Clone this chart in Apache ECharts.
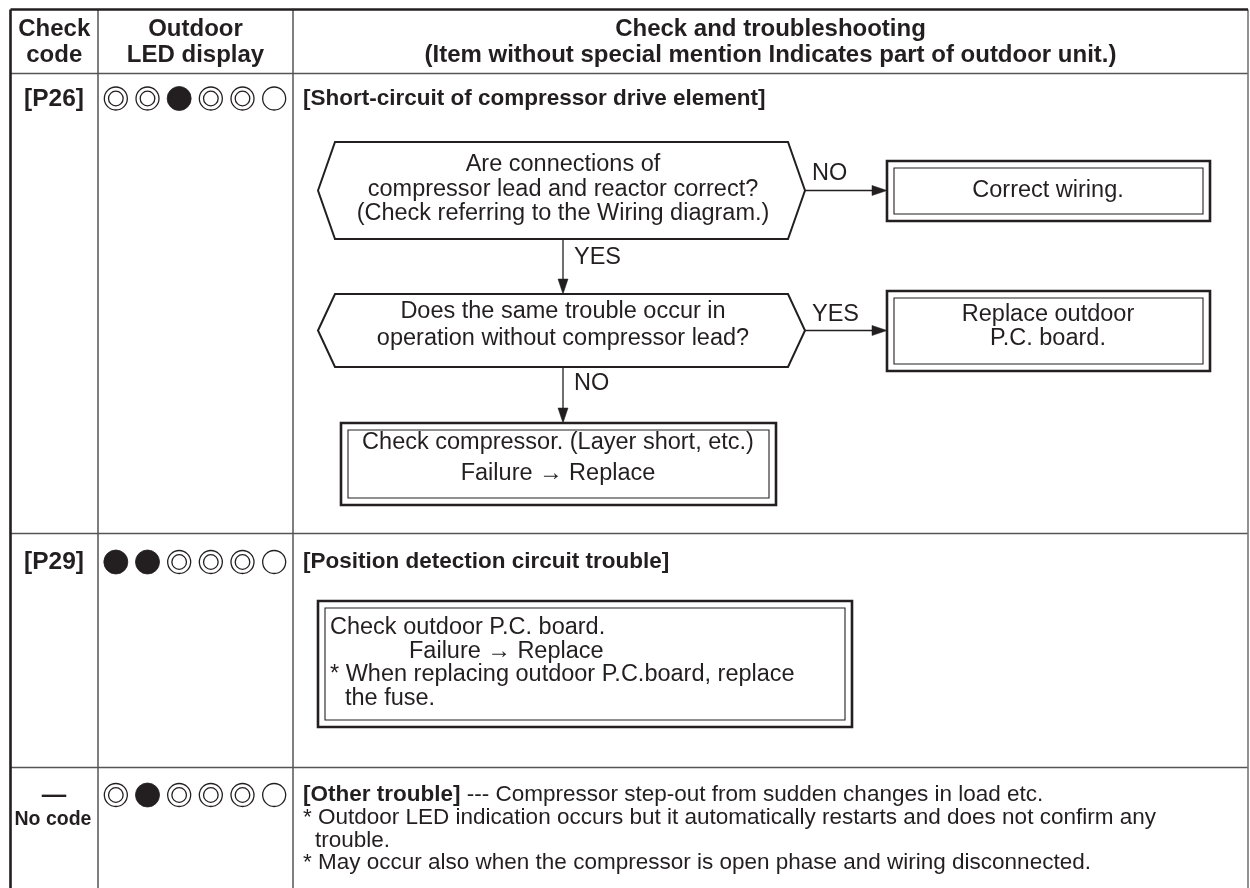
<!DOCTYPE html>
<html><head><meta charset="utf-8">
<script src="https://cdn.jsdelivr.net/npm/echarts@6/dist/echarts.min.js"></script>
<style>html,body{margin:0;padding:0;background:#fff}#c{width:1250px;height:888px}</style>
</head><body><div id="c"></div>
<script>
// ---------------- data ----------------
const headerCheckCode = ['Check', 'code'];
const headerLed = ['Outdoor', 'LED display'];
const headerMain = ['Check and troubleshooting', '(Item without special mention Indicates part of outdoor unit.)'];
const checkCodes = ['[P26]', '[P29]', '\u2014'];
const noCodeText = 'No code';
// LED states: 'D' = double ring, 'F' = lit (filled), 'O' = off (open)
const ledP26 = ['D', 'D', 'F', 'D', 'D', 'O'];
const ledP29 = ['F', 'F', 'D', 'D', 'D', 'O'];
const ledOther = ['D', 'F', 'D', 'D', 'D', 'O'];
const ledIndex = ['1', '2', '3', '4', '5', '6'];
const rowTitles = ['[Short-circuit of compressor drive element]', '[Position detection circuit trouble]', '[Other trouble]'];
const q1Lines = ['Are connections of', 'compressor lead and reactor correct?', '(Check referring to the Wiring diagram.)'];
const q2Lines = ['Does the same trouble occur in', 'operation without compressor lead?'];
const a1Lines = ['Correct wiring.'];
const a2Lines = ['Replace outdoor', 'P.C. board.'];
const a3Lines = ['Check compressor. (Layer short, etc.)', 'Failure \u2192 Replace'];
const branchLabels = ['NO', 'YES', 'YES', 'NO'];
const p29Lines = ['Check outdoor P.C. board.', 'Failure \u2192 Replace', '* When replacing outdoor P.C.board, replace', 'the fuse.'];
const otherTail = ' --- Compressor step-out from sudden changes in load etc.';
const otherNotes = ['* Outdoor LED indication occurs but it automatically restarts and does not confirm any', 'trouble.', '* May occur also when the compressor is open phase and wiring disconnected.'];

// ---------------- layout ----------------
const INK = '#231f20';
const GRID = '#555';
const FF = '"Liberation Sans", Arial, Helvetica, sans-serif';
const F_HEAD = 'bold 24px ' + FF;
const F_CODE = 'bold 24.5px ' + FF;
const F_TITLE = 'bold 22.5px ' + FF;
const F_BODY = '23.5px ' + FF;
const F_NOTE = '22.5px ' + FF;
const T = { left: 10.5, right: 1248, top: 9.5, bottom: 888, col1: 98, col2: 293, head: 73.5, rows: [533.5, 767.5] };
const rowY = [99, 562, 795];
const ledY = [98.5, 562, 795];

const els = [];
function line(x1, y1, x2, y2, w, c) {
  els.push({ type: 'line', shape: { x1, y1, x2, y2 }, style: { stroke: c || GRID, lineWidth: w || 1.5 }, silent: true });
}
function text(str, x, y, font, align, extra) {
  els.push({ type: 'text', x: x, y: y, style: Object.assign({ text: str, font: font, fill: INK,
    align: align || 'center', verticalAlign: 'middle', textAlign: align || 'center', textVerticalAlign: 'middle' }, extra || {}), silent: true });
}
function lines(arr, x, y0, dy, font, align, xs) {
  arr.forEach((s, i) => text(s, xs ? xs[i] : x, y0 + i * dy, font, align));
}
function hexagon(x1, x2, top, bottom, inset) {
  const my = (top + bottom) / 2;
  els.push({ type: 'polygon', shape: { points: [[x1, my], [x1 + inset, top], [x2 - inset, top], [x2, my], [x2 - inset, bottom], [x1 + inset, bottom]] },
    style: { fill: '#fff', stroke: INK, lineWidth: 2 }, silent: true });
}
function doubleBox(x1, y1, x2, y2) {
  els.push({ type: 'rect', shape: { x: x1, y: y1, width: x2 - x1, height: y2 - y1 }, style: { fill: '#fff', stroke: INK, lineWidth: 2.6 }, silent: true });
  els.push({ type: 'rect', shape: { x: x1 + 7, y: y1 + 7, width: x2 - x1 - 14, height: y2 - y1 - 14 }, style: { fill: 'none', stroke: INK, lineWidth: 1.1 }, silent: true });
}
function arrow(x1, y1, x2, y2) {
  const L = 15, H = 5;
  const dx = Math.sign(x2 - x1), dy = Math.sign(y2 - y1);
  const bx = x2 - dx * L, by = y2 - dy * L;
  line(x1, y1, bx, by, 1.3, INK);
  const pts = dx ? [[x2, y2], [bx, y2 - H], [bx, y2 + H]] : [[x2, y2], [x2 - H, by], [x2 + H, by]];
  els.push({ type: 'polygon', shape: { points: pts }, style: { fill: INK, stroke: INK, lineWidth: 0.5 }, silent: true });
}

// table frame
line(T.col1, T.top, T.col1, T.bottom);
line(T.col2, T.top, T.col2, T.bottom);
line(T.left, T.head, T.right, T.head);
T.rows.forEach(y => line(T.left, y, T.right, y));
line(T.right, T.top, T.right, T.bottom, 1.6, '#777');
line(T.left, T.top, T.right, T.top, 2.6, INK);
line(T.left, T.top, T.left, T.bottom, 2.6, INK);

// header
lines(headerCheckCode, (T.left + T.col1) / 2, 29, 26, F_HEAD);
lines(headerLed, (T.col1 + T.col2) / 2, 29, 26, F_HEAD);
lines(headerMain, (T.col2 + T.right) / 2, 29, 26, F_HEAD);

// check codes
checkCodes.forEach((c, i) => text(c, 54, rowY[i], F_CODE));
text(noCodeText, 53, 820, 'bold 19.5px ' + FF);

// row titles
text(rowTitles[0], 303, rowY[0], F_TITLE, 'left');
text(rowTitles[1], 303, rowY[1], F_TITLE, 'left');
text('{b|' + rowTitles[2] + '}{r|' + otherTail + '}', 303, rowY[2], F_NOTE, 'left',
  { rich: { b: { font: F_TITLE, fill: INK }, r: { font: F_NOTE, fill: INK } } });
lines(otherNotes, 303, 818, 22.5, F_NOTE, 'left', [303, 315, 303]);

// P26 flow chart
const cx = 563;
hexagon(318, 805, 142, 239, 17);
lines(q1Lines, cx, 165, 24.5, F_BODY);
hexagon(318, 805, 294, 367, 17);
lines(q2Lines, cx, 312, 27, F_BODY);
arrow(805, 190.5, 887, 190.5);
arrow(cx, 239, cx, 294);
arrow(805, 330.5, 887, 330.5);
arrow(cx, 367, cx, 423);
text(branchLabels[0], 812, 174, F_BODY, 'left');
text(branchLabels[1], 574, 258, F_BODY, 'left');
text(branchLabels[2], 812, 315, F_BODY, 'left');
text(branchLabels[3], 574, 384, F_BODY, 'left');
doubleBox(887, 161, 1210, 221);
lines(a1Lines, 1048, 191, 24, F_BODY);
doubleBox(887, 291, 1210, 371);
lines(a2Lines, 1048, 315, 23.5, F_BODY);
doubleBox(341, 423, 776, 505);
lines(a3Lines, 558, 443, 31, F_BODY);

// P29 box
doubleBox(318, 601, 852, 727);
lines(p29Lines, 0, 628, 23.4, F_BODY, 'left', [330, 409, 330, 345]);

// LED indicators via grids + custom series
const ledRows = [ledP26, ledP29, ledOther];
const stateCode = { D: 0, F: 1, O: 2 };
function renderLed(params, api) {
  const p = api.coord([api.value(0), 0]);
  const st = api.value(1);
  const r = 12;
  const ch = [];
  if (st === 1) {
    ch.push({ type: 'circle', shape: { cx: p[0], cy: p[1], r: r }, style: { fill: INK, stroke: INK, lineWidth: 0.8 } });
  } else {
    ch.push({ type: 'circle', shape: { cx: p[0], cy: p[1], r: r - 0.5 }, style: { fill: '#fff', stroke: INK, lineWidth: 1.3 } });
    if (st === 0) ch.push({ type: 'circle', shape: { cx: p[0], cy: p[1], r: 7.3 }, style: { fill: 'none', stroke: INK, lineWidth: 1.3 } });
  }
  return { type: 'group', children: ch };
}
const grids = [], xAxes = [], yAxes = [], series = [];
ledRows.forEach((row, i) => {
  grids.push({ left: 100, width: 190, top: ledY[i] - 15, height: 30 });
  xAxes.push({ type: 'category', data: ledIndex, gridIndex: i, show: false });
  yAxes.push({ type: 'category', data: ['r'], gridIndex: i, show: false });
  series.push({ type: 'custom', xAxisIndex: i, yAxisIndex: i, renderItem: renderLed, silent: true, animation: false,
    data: row.map((s, k) => [k, stateCode[s]]) });
});

const chart = echarts.init(document.getElementById('c'), null, { renderer: 'canvas' });
chart.setOption({
  backgroundColor: '#fff',
  animation: false,
  grid: grids, xAxis: xAxes, yAxis: yAxes, series: series,
  graphic: { elements: els }
});
</script></body></html>
